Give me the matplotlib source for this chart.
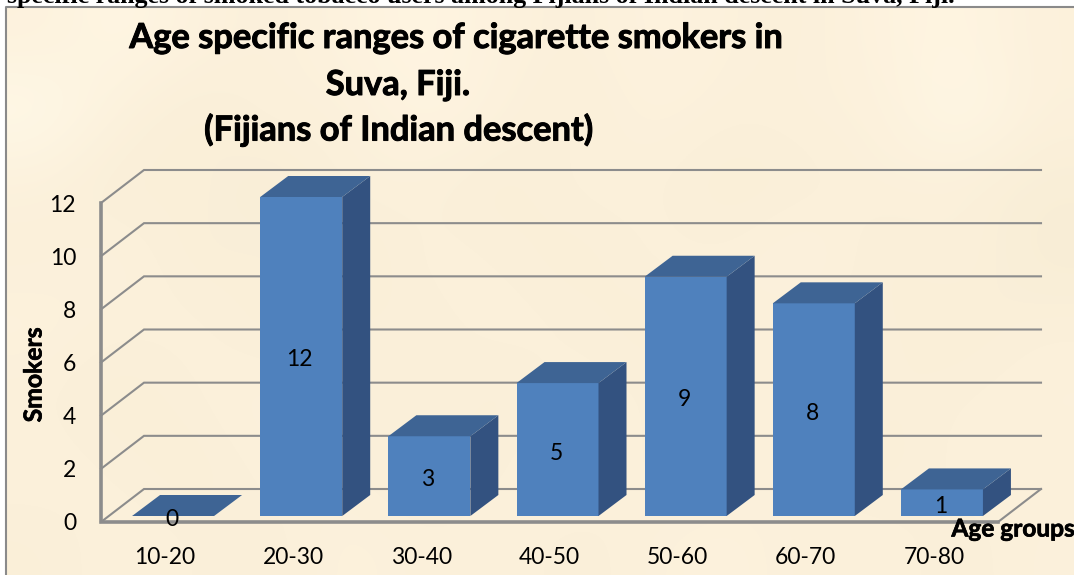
#!/usr/bin/env python3
import matplotlib
matplotlib.use("Agg")
import matplotlib.pyplot as plt
import matplotlib.patheffects as pe
import numpy as np
from matplotlib.patches import Polygon

plt.rcParams['font.family'] = ['Lato', 'DejaVu Sans']

groups = ["10-20", "20-30", "30-40", "40-50", "50-60", "60-70", "70-80"]
smokers = [0, 12, 3, 5, 9, 8, 1]
y_ticks = [0, 2, 4, 6, 8, 10, 12]
title_lines = ["Age specific ranges of cigarette smokers in", "Suva, Fiji.", "(Fijians of Indian descent)"]
caption = "specific ranges of smoked tobacco users among Fijians of Indian descent in Suva, Fiji."

# paper tint, darker (-) or paler (+) than the base colour
paper_tone = [
    [2, 6, 2, 0, 3, 5, 2, 0, 3, 1, 0, 3, 5, 1],
    [9, 1, -2, 1, 0, 5, 1, -1, 2, 0, 1, 1, 8, 1],
    [1, -2, 0, -3, 1, 0, -2, 1, 0, -2, -1, 1, 0, -2],
    [0, 2, -2, 0, -3, 1, 0, -2, 1, 0, 3, -2, 1, -3],
    [2, 0, 1, -2, 0, -1, 1, 0, -2, 1, -1, 0, -2, 0],
    [0, -2, 0, 2, -1, 1, -2, 1, 0, -1, 2, -1, 0, 1],
    [1, 0, -2, 1, 0, -2, 0, 2, -1, 0, 1, -2, 1, 0],
    [-1, 1, 0, -1, 2, 0, 1, -1, 1, 2, 0, 1, -1, 1],
]

W, H = 1074, 575
fig = plt.figure(figsize=(W / 100, H / 100), dpi=100, facecolor="white")


def heavy(size=0.5):
    return [pe.withStroke(linewidth=size, foreground="black")]


# paper background with its grey border on the left and top
bg = fig.add_axes([6 / W, 0, (W - 6) / W, 1 - 7 / H], zorder=-1)
base = np.array([251, 240, 218]) / 255
tone = np.array(paper_tone)[:, :, None] * np.array([1.0, 1.0, 1.6]) / 255
bg.imshow(np.clip(base + tone, 0, 1), aspect="auto", interpolation="bicubic")
bg.axis("off")

fig.add_artist(plt.Line2D([6 / W, 6 / W, 1], [0, 1 - 7 / H, 1 - 7 / H], color="#8A8A8A", lw=1.5))
fig.text(7 / W, 1 - 3 / H, caption, family="Liberation Serif", weight="bold", fontsize=18.7,
         va="baseline", ha="left", color="black")

# axes are the front plane of the box
ax = fig.add_axes([101 / W, 1 - 522 / H, 897 / W, 319 / H])
ax.set_xlim(0, 7)
ax.set_ylim(0, 12)
ax.patch.set_alpha(0)
for s in ax.spines.values():
    s.set_visible(False)

# depth of the box and of the bars, in data units
unit_x = 897 / 7
unit_y = 319 / 12
box_dx, box_dy = 43 / unit_x, 33 / unit_y
bar_dx, bar_dy = 28 / unit_x, 21 / unit_y
base_dx, base_dy = 8 / unit_x, 6 / unit_y
bar_w = 82 / unit_x
grid_c = "#8C8C8C"

for v in y_ticks:
    ax.plot([0, box_dx, 7 + box_dx], [v, v + box_dy, v + box_dy], color=grid_c, lw=1.5,
            clip_on=False, zorder=1, solid_joinstyle="miter")
ax.plot([7, 7 + box_dx], [0, box_dy], color=grid_c, lw=1.5, clip_on=False, zorder=1)
ax.plot([0, 0, 7], [12, 0, 0], color=grid_c, lw=2.6, clip_on=False, zorder=1, solid_joinstyle="miter")

for i, v in enumerate(smokers):
    x0 = i + 0.5 + base_dx - bar_w / 2
    x1 = x0 + bar_w
    y0 = base_dy
    y1 = base_dy + v
    ax.bar(x0, v, bar_w, bottom=y0, align="edge", color="#4F81BD", zorder=3, clip_on=False)
    ax.add_patch(Polygon([(x1, y0), (x1 + bar_dx, y0 + bar_dy), (x1 + bar_dx, y1 + bar_dy), (x1, y1)],
                         fc="#335280", ec="none", zorder=3, clip_on=False))
    ax.add_patch(Polygon([(x0, y1), (x0 + bar_dx, y1 + bar_dy), (x1 + bar_dx, y1 + bar_dy), (x1, y1)],
                         fc="#3E6494", ec="none", zorder=3, clip_on=False))
    ax.annotate(str(v), ((x0 + x1) / 2, y0 + v / 2), xytext=(-1, -2.5), textcoords="offset points",
                ha="center", va="center", fontsize=16.5, color="black", zorder=4, annotation_clip=False)

ax.set_xticks([i + 0.5 for i in range(7)], groups)
ax.set_yticks(y_ticks, [str(v) for v in y_ticks])
ax.tick_params(length=0, labelsize=16.5, colors="black")
ax.tick_params(axis="x", pad=18)
ax.tick_params(axis="y", pad=18)

for i, line in enumerate(title_lines):
    xc = [457, 398, 399][i]
    yc = [38, 85, 130][i]
    fig.text(xc / W, 1 - yc / H, line, ha="center", va="center", fontsize=24.8, weight="bold",
             color="black", path_effects=heavy(0.7))

fig.text(34 / W, 1 - 375 / H, "Smokers", rotation=90, ha="center", va="center", fontsize=17.8, weight="bold",
         path_effects=heavy())
fig.text(1013 / W, 1 - 529 / H, "Age groups", ha="center", va="center", fontsize=17.6, weight="bold",
         path_effects=heavy())

fig.savefig("out.png", dpi=100, facecolor="white")
